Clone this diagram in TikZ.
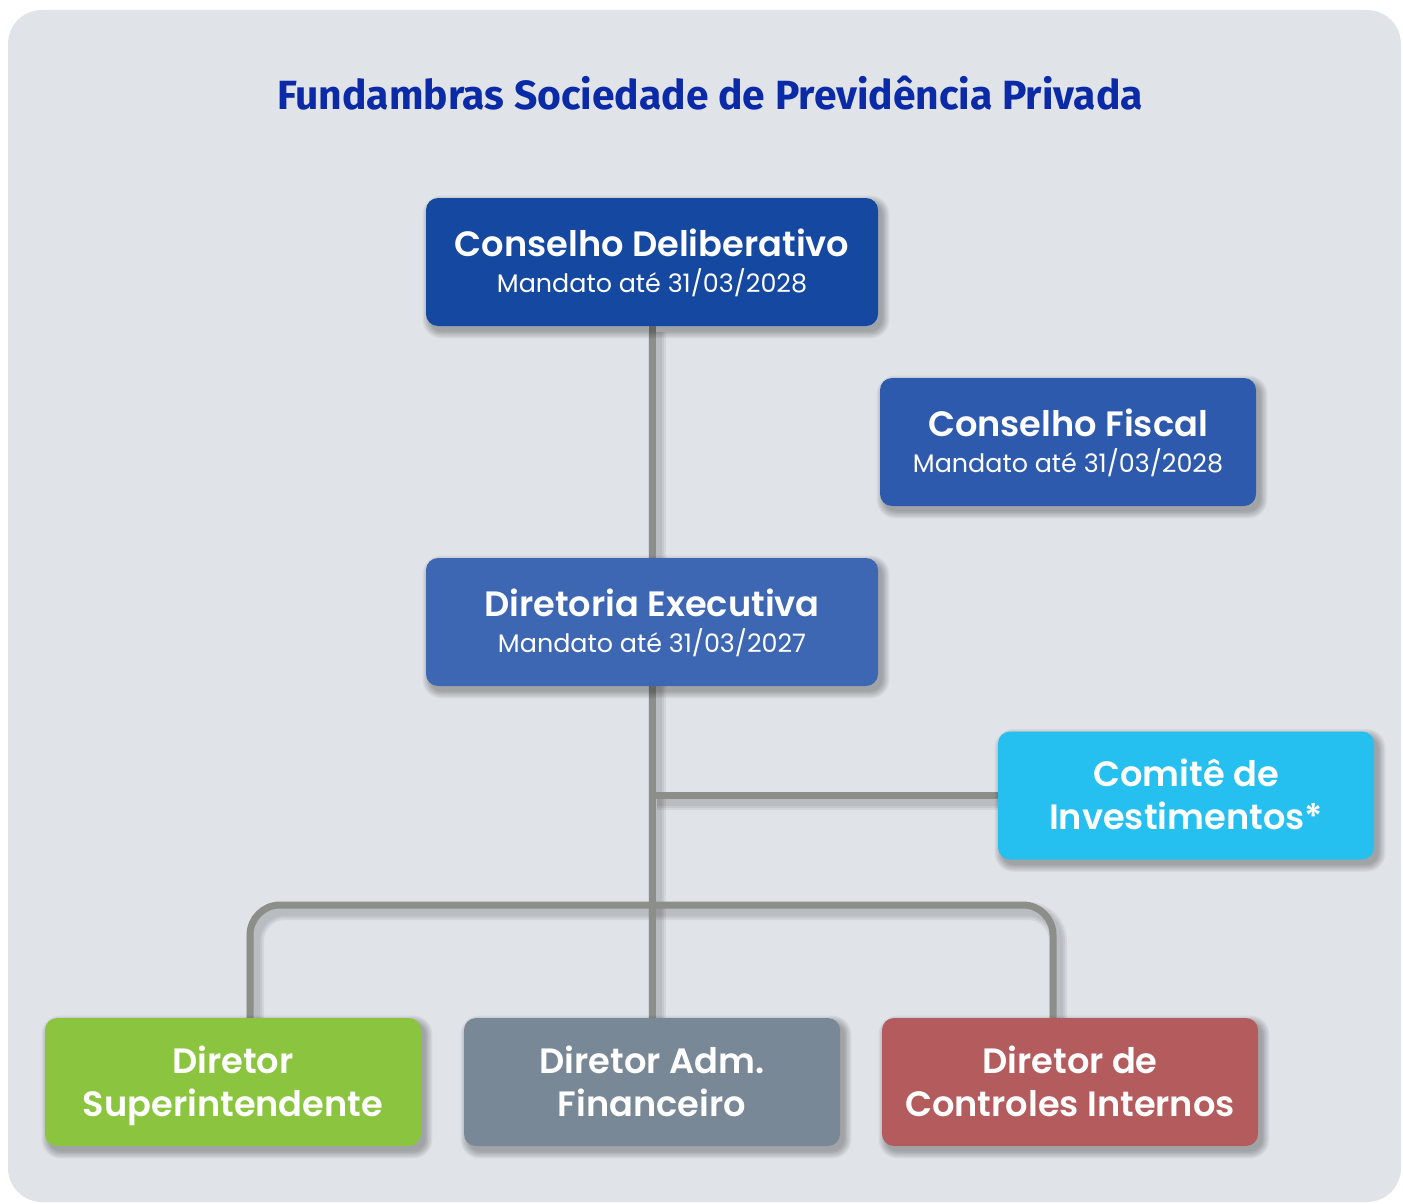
\documentclass[tikz,border=0pt]{standalone}
\usepackage{fontspec}
\setmainfont{Poppins}[BoldFont={Poppins SemiBold}]
\newfontfamily\headfont{Fira Sans}
\usetikzlibrary{calc}

\definecolor{bgpanel}{HTML}{E0E3E8}
\definecolor{headblue}{HTML}{0A2AA8}
\definecolor{linkgray}{HTML}{8C8E89}
\definecolor{cdel}{HTML}{1548A0}
\definecolor{cfis}{HTML}{2E5AAD}
\definecolor{dexe}{HTML}{3E67B3}
\definecolor{comi}{HTML}{25C0F0}
\definecolor{dsup}{HTML}{8BC540}
\definecolor{dadm}{HTML}{798896}
\definecolor{dctl}{HTML}{B35B5D}

\tikzset{
  orgbox/.style={rounded corners=6pt, minimum width=188pt, minimum height=64pt,
    inner sep=0pt, text=white, align=center},
  widebox/.style={orgbox, minimum width=226pt},
  link/.style={draw=linkgray, line width=3.5pt},
  linkshade/.style={draw=black, opacity=0.06, line width=#1},
  twoline/.style={font=\fontsize{17.6}{21.5}\selectfont\bfseries},
  dateline/.style={font=\fontsize{12.7}{18}\selectfont},
}

% heading line over a term line inside a council box
\newcommand{\boxhead}[2]{{\fontsize{17.6}{18}\selectfont\bfseries\rule{0pt}{17.4pt}#1}\\#2\strut}
% two-line label of a director box
\newcommand{\twolabel}[2]{\rule{0pt}{19pt}#1\\#2\strut}

% soft drop shadow under a named box
\newcommand{\dropshade}[1]{%
  \foreach \g in {0,...,5}{%
    \fill[black, opacity=0.05, rounded corners=6pt+\g*0.7pt]
      ($(#1.north west)+(4-\g*1.4,5-\g*1.4)$) rectangle
      ($(#1.south east)+(4+\g*1.4,5+\g*1.4)$);
  }%
}

\begin{document}
\begin{tikzpicture}[x=0.5pt, y=-0.5pt]
  \useasboundingbox (0,0) rectangle (1403,1204);
  % panel
  \fill[bgpanel, rounded corners=17pt] (8,10) rectangle (1401,1202);

  % heading
  \node[text=headblue, font=\headfont\fontsize{20.4}{25}\selectfont\bfseries] (title) at (710,93)
    {Fundambras Sociedade de Previdência Privada};

  % junction points of the connectors
  \coordinate (jc) at (652,795);
  \coordinate (jb) at (652,905);
  \coordinate (bl) at (250,1018);
  \coordinate (br) at (1053,1018);
  \coordinate (tp) at (652,326);
  \coordinate (bt) at (652,1018);
  \coordinate (ce) at (998,795);

  % connector shadows
  \foreach \w in {9pt,7pt,5pt}{
    \begin{scope}[transform canvas={shift={(2.5pt,-3pt)}}]
      \draw[linkshade=\w] (tp) -- (bt);
      \draw[linkshade=\w] (jc) -- (ce);
      \draw[linkshade=\w, rounded corners=15pt] (bl) |- (jb) -| (br);
    \end{scope}
  }

  % connectors
  \draw[link] (tp) -- (bt);
  \draw[link] (jc) -- (ce);
  \draw[link, rounded corners=15pt] (bl) |- (jb) -| (br);

  % box outlines placed invisibly first so their shadows can go underneath
  \begin{scope}[every node/.append style={opacity=0, text opacity=0}]
    \node[widebox] (cd) at (652,262) {};
    \node[orgbox] (cf) at (1068,442) {};
    \node[widebox] (de) at (652,622) {};
    \node[orgbox] (ci) at (1186,795.5) {};
    \node[orgbox] (ds) at (233,1082) {};
    \node[orgbox] (da) at (652,1082) {};
    \node[orgbox] (dc) at (1070,1082) {};
  \end{scope}
  \foreach \n in {cd,cf,de,ci,ds,da,dc}{\dropshade{\n}}

  \node[widebox, fill=cdel, dateline] (cdtext) at (cd)
    {\boxhead{Conselho Deliberativo}{Mandato até 31/03/2028}};
  \node[orgbox, fill=cfis, dateline] (cftext) at (cf)
    {\boxhead{Conselho Fiscal}{Mandato até 31/03/2028}};
  \node[widebox, fill=dexe, dateline] (detext) at (de)
    {\boxhead{Diretoria Executiva}{Mandato até 31/03/2027}};
  \node[orgbox, fill=comi, twoline] (citext) at (ci)
    {\twolabel{Comitê de}{Investimentos*}};
  \node[orgbox, fill=dsup, twoline] (dstext) at (ds)
    {\twolabel{Diretor}{Superintendente}};
  \node[orgbox, fill=dadm, twoline] (datext) at (da)
    {\twolabel{Diretor Adm.}{Financeiro}};
  \node[orgbox, fill=dctl, twoline] (dctext) at (dc)
    {\twolabel{Diretor de}{Controles Internos}};
\end{tikzpicture}
\end{document}
